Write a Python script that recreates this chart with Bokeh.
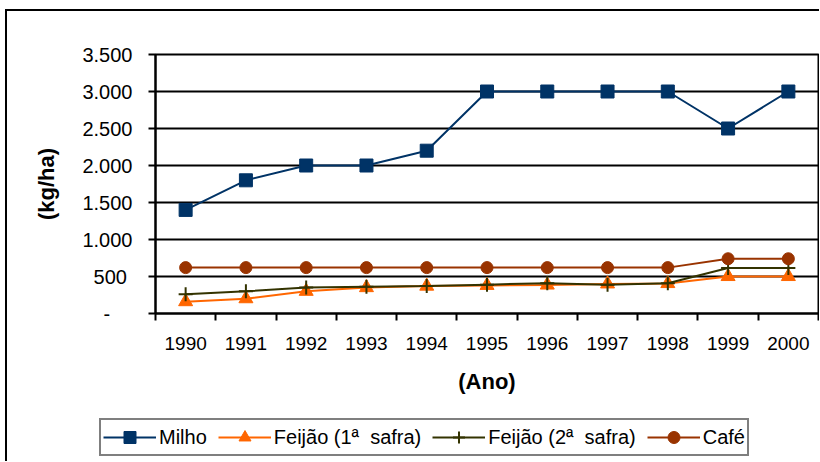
from bokeh.plotting import figure
from bokeh.models import Range1d, FixedTicker, Legend, LegendItem
from bokeh.layouts import column
from bokeh.embed import file_html
from bokeh.resources import INLINE

years = [1990, 1991, 1992, 1993, 1994, 1995, 1996, 1997, 1998, 1999, 2000]
milho = [1400, 1800, 2000, 2000, 2200, 3000, 3000, 3000, 3000, 2500, 3000]
feijao1 = [160, 200, 300, 350, 370, 380, 385, 400, 405, 500, 500]
feijao2 = [260, 300, 350, 360, 370, 390, 410, 390, 410, 615, 615]
cafe = [620, 620, 620, 620, 620, 620, 620, 620, 620, 740, 740]

series_names = ["Milho", "Feijão (1ª  safra)", "Feijão (2ª  safra)", "Café"]

y_ticks = [0, 500, 1000, 1500, 2000, 2500, 3000, 3500]
y_tick_labels = ["-\u00a0\u00a0\u00a0\u00a0", "500\u00a0", "1.000", "1.500", "2.000", "2.500", "3.000", "3.500"]

FONT = "Liberation Sans"
C_MILHO = "#003366"
C_F1 = "#FF6600"
C_F2 = "#333300"
C_CAFE = "#993300"

p = figure(width=812, height=389, output_backend="svg", toolbar_location=None,
           x_range=Range1d(years[0] - 0.5, years[-1] + 0.5), y_range=Range1d(0, 3500),
           min_border_left=148, min_border_right=1, min_border_top=43, min_border_bottom=87)

p.outline_line_color = "black"
p.outline_line_width = 2
p.background_fill_color = "white"
p.border_fill_color = "white"

# x axis
minor = [y - 0.5 for y in years] + [years[-1] + 0.5]
p.xaxis.ticker = FixedTicker(ticks=years, minor_ticks=minor)
p.xaxis.major_tick_line_color = None
p.xaxis.major_tick_out = 0
p.xaxis.major_tick_in = 0
p.xaxis.minor_tick_line_color = "black"
p.xaxis.minor_tick_line_width = 2
p.xaxis.minor_tick_out = 7
p.xaxis.minor_tick_in = 0
p.xaxis.axis_line_width = 2
p.xaxis.major_label_text_font = FONT
p.xaxis.major_label_text_font_size = "19px"
p.xaxis.major_label_text_color = "black"
p.xaxis.major_label_standoff = 16
p.xaxis.axis_label = "(Ano)"
p.xaxis.axis_label_text_font = FONT
p.xaxis.axis_label_text_font_style = "bold"
p.xaxis.axis_label_text_font_size = "22px"
p.xaxis.axis_label_text_color = "black"
p.xaxis.axis_label_standoff = 16

# y axis
p.yaxis.ticker = FixedTicker(ticks=y_ticks, minor_ticks=[])
p.yaxis.major_label_overrides = {t: l for t, l in zip(y_ticks, y_tick_labels)}
p.yaxis.major_tick_out = 7
p.yaxis.major_tick_in = 0
p.yaxis.major_tick_line_width = 2
p.yaxis.axis_line_width = 2
p.yaxis.major_label_text_font = FONT
p.yaxis.major_label_text_font_size = "20px"
p.yaxis.major_label_text_color = "black"
p.yaxis.major_label_standoff = 16
p.yaxis.axis_label = "(kg/ha)"
p.yaxis.axis_label_text_font = FONT
p.yaxis.axis_label_text_font_style = "bold"
p.yaxis.axis_label_text_font_size = "22px"
p.yaxis.axis_label_text_color = "black"
p.yaxis.axis_label_standoff = 20

p.xgrid.visible = False
p.ygrid.ticker = FixedTicker(ticks=y_ticks)
p.ygrid.grid_line_color = "black"
p.ygrid.grid_line_width = 2

p.line(years, milho, line_color=C_MILHO, line_width=2)
p.scatter(years, milho, marker="square", size=13, fill_color=C_MILHO, line_color=C_MILHO)
p.line(years, feijao1, line_color=C_F1, line_width=2)
p.scatter(years, feijao1, marker="triangle", size=14, fill_color=C_F1, line_color=C_F1)
p.line(years, feijao2, line_color=C_F2, line_width=2)
p.scatter(years, feijao2, marker="cross", size=14, line_color=C_F2, line_width=2)
p.line(years, cafe, line_color=C_CAFE, line_width=2)
p.scatter(years, cafe, marker="circle", size=12, fill_color=C_CAFE, line_color=C_CAFE)

# legend strip (second figure, same look as the series)
q = figure(width=812, height=61, output_backend="svg", toolbar_location=None,
           x_axis_location=None, y_axis_location=None,
           x_range=Range1d(0, 1), y_range=Range1d(0, 1), min_border=0)
q.outline_line_color = None
q.grid.visible = False
q.background_fill_color = "white"
q.border_fill_color = "white"
for fig in (p, q):
    if "frame_align" in fig.properties():
        fig.frame_align = False

NAN = float("nan")
styles = [("square", 13, C_MILHO), ("triangle", 14, C_F1), ("cross", 14, C_F2), ("circle", 12, C_CAFE)]
items = []
for name, (mk, sz, col) in zip(series_names, styles):
    lr = q.line(x=[NAN], y=[NAN], line_color=col, line_width=2)
    if mk == "cross":
        sr = q.scatter(x=[NAN], y=[NAN], marker=mk, size=sz, line_color=col, line_width=2)
    else:
        sr = q.scatter(x=[NAN], y=[NAN], marker=mk, size=sz, fill_color=col, line_color=col)
    items.append(LegendItem(label=name, renderers=[lr, sr]))

legend = Legend(items=items, orientation="horizontal", location=(92, 5))
legend.border_line_color = "black"
legend.border_line_width = 2
legend.background_fill_color = "white"
legend.background_fill_alpha = 1
legend.label_text_font = FONT
legend.label_text_font_size = "20px"
legend.label_text_color = "black"
legend.glyph_width = 53
legend.glyph_height = 30
legend.label_standoff = 3
legend.spacing = 11
legend.padding = 2
legend.margin = 0
q.add_layout(legend, "center")

layout = column(p, q, spacing=0,
                styles={"border-left": "2px solid black", "border-top": "2px solid black",
                        "margin-left": "5px", "margin-top": "9px"})

open("out.html", "w").write(file_html(layout, INLINE))
